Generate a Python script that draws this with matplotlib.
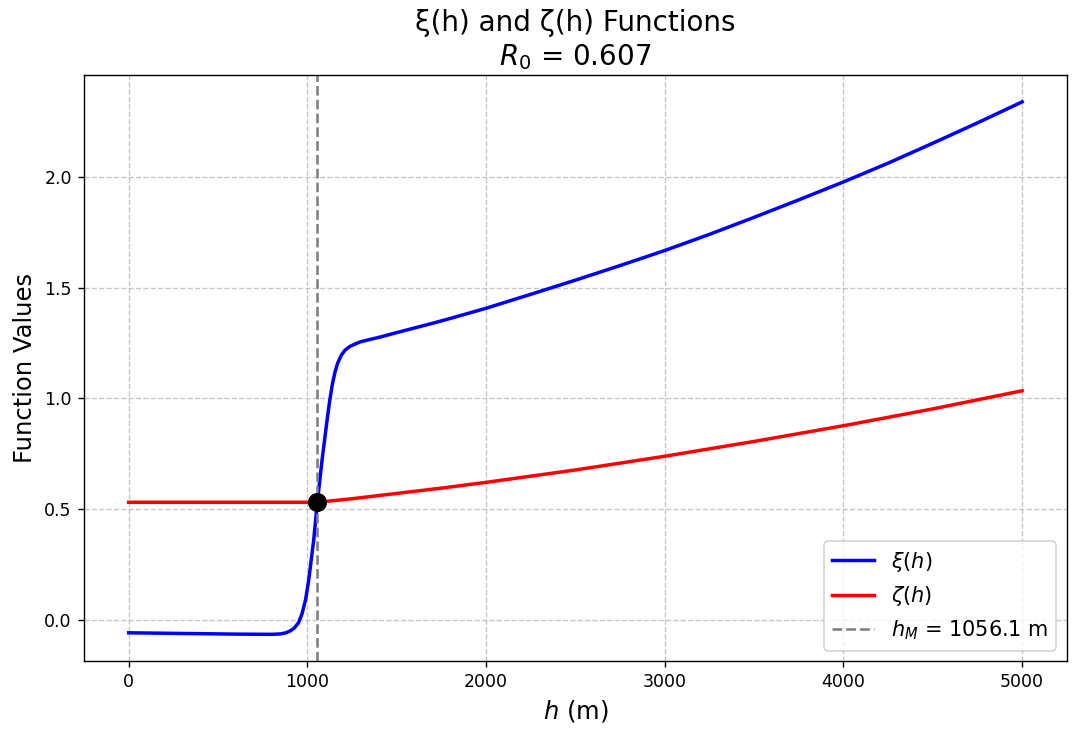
import matplotlib
matplotlib.use("Agg")
import matplotlib.pyplot as plt

# values
h_xi = [0, 200, 400, 600, 800, 850, 880, 900, 925, 950, 970, 990, 1007, 1020,
        1035, 1056, 1082, 1110, 1125, 1140, 1155, 1170, 1190, 1210, 1235, 1260,
        1296, 1350, 1408, 1500, 1600, 1700, 1800, 1900, 2000, 2250, 2500, 2750,
        3000, 3250, 3500, 3750, 4000, 4250, 4500, 4750, 5000]
xi = [-0.060, -0.062, -0.064, -0.066, -0.067, -0.065, -0.060, -0.053, -0.040,
      -0.015, 0.026, 0.090, 0.176, 0.260, 0.357, 0.531, 0.720, 0.900, 0.990,
      1.065, 1.120, 1.160, 1.195, 1.217, 1.233, 1.243, 1.255, 1.266, 1.277,
      1.297, 1.318, 1.339, 1.361, 1.384, 1.407, 1.470, 1.534, 1.600, 1.668,
      1.741, 1.818, 1.897, 1.978, 2.063, 2.153, 2.245, 2.340]

h_zeta = [0, 500, 1056, 1250, 1500, 1750, 2000, 2500, 3000, 3500, 4000, 4500, 5000]
zeta = [0.530, 0.530, 0.530, 0.546, 0.570, 0.594, 0.620, 0.676, 0.738, 0.805,
        0.876, 0.952, 1.034]

h_M = 1056.1
zeta_M = 0.530
R0 = 0.607

fig = plt.figure(figsize=(8.64, 5.872), dpi=125)
ax = fig.add_axes([0.0778, 0.0995, 0.910, 0.798])

ax.plot(h_xi, xi, color='blue', linewidth=2, label=r'$\xi(h)$')
ax.plot(h_zeta, zeta, color='red', linewidth=2, label=r'$\zeta(h)$')
ax.axvline(h_M, color='gray', linestyle='--', linewidth=1.5,
           label=rf'$h_M$ = {h_M:.1f} m')
ax.plot(h_M, zeta_M, 'ko', markersize=10)

ax.set_xlabel(r'$h$ (m)', fontsize=14)
ax.set_ylabel('Function Values', fontsize=14)
ax.set_title(f'ξ(h) and ζ(h) Functions\n$R_0$ = {R0}', fontsize=16)
ax.grid(True, linestyle='--', alpha=0.7)
ax.legend(loc='lower right', fontsize=12)

fig.savefig('out.png', dpi=125)
